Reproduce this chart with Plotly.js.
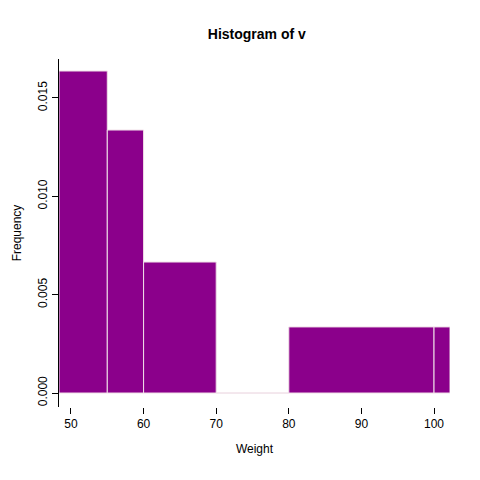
<!DOCTYPE html>
<html>
<head>
<script src="https://cdn.plot.ly/plotly-3.0.0.min.js"></script>
<style>body{margin:0}</style>
</head>
<body>
<div id="graph" style="width:480px;height:480px"></div>
<script>
// histogram breaks and densities
const breaks = [48.35, 55, 60, 70, 80, 100, 102.2];
const density = [0.01637, 0.01337, 0.00666, 0, 0.00336, 0.00336];

const mids = [];
const widths = [];
for (var i = 0; i < density.length; i++) {
    mids.push((breaks[i] + breaks[i + 1]) / 2);
    widths.push(breaks[i + 1] - breaks[i]);
}

const font = { family: 'Liberation Sans, Arial, sans-serif', size: 12, color: '#000' };

Plotly.newPlot('graph', [{
    type: 'bar',
    x: mids,
    y: density,
    width: widths,
    marker: { color: '#8B008B', line: { color: '#f0e0e8', width: 1 } },
}], {
    width: 480, height: 480,
    margin: { l: 59, r: 30, t: 59, b: 73 },
    paper_bgcolor: '#fff', plot_bgcolor: '#fff',
    showlegend: false,
    font: font,
    title: { text: '<b>Histogram of v</b>', x: 0.535, y: 0.94, font: { size: 14, family: font.family } },
    xaxis: {
        range: [48.35, 102.2], tickvals: [50, 60, 70, 80, 90, 100],
        showgrid: false, zeroline: false, showline: false,
        ticks: 'outside', ticklen: 6, tickcolor: '#000',
        title: { text: 'Weight', standoff: 14, font: font },
    },
    yaxis: {
        range: [-0.00071, 0.01698], tickvals: [0, 0.005, 0.01, 0.015],
        ticktext: ['0.000', '0.005', '0.010', '0.015'], tickangle: -90,
        showgrid: false, zeroline: false, showline: true, linecolor: '#000',
        ticks: 'outside', ticklen: 6, tickcolor: '#000',
        title: { text: 'Frequency', standoff: 12, font: font },
    },
}, { displayModeBar: false });
</script>
</body>
</html>
